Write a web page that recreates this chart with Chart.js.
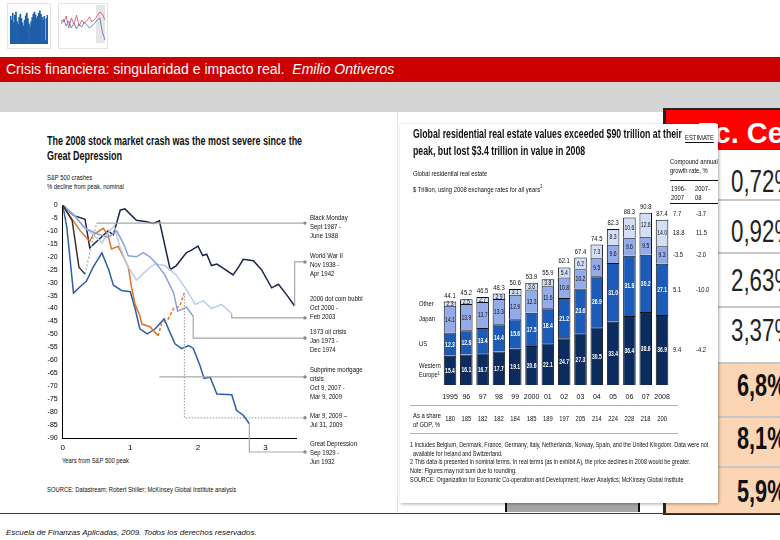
<!DOCTYPE html>
<html>
<head>
<meta charset="utf-8">
<script src="https://cdn.jsdelivr.net/npm/chart.js@4.4.1/dist/chart.umd.min.js"></script>
<style>
  body { margin: 0; width: 780px; height: 540px; position: relative; overflow: hidden; background: #fff;
         font-family: "Liberation Sans", Arial, sans-serif; }
  .abs { position: absolute; }
  .band { left: 0; width: 780px; }
  .t { position: absolute; white-space: nowrap; color: #111; transform-origin: 0 0; }
  .n72 { transform: scaleX(0.72); }
  .n78 { transform: scaleX(0.78); }
  .n70 { transform: scaleX(0.70); }
  canvas { position: absolute; }
</style>
</head>
<body>

<!-- thumbnails -->
<div class="abs" style="left:7px;top:3px;width:44px;height:46px;border:1px solid #e4e4e4;box-sizing:border-box"></div>
<div class="abs" style="left:58px;top:3px;width:50px;height:46px;border:1px solid #e4e4e4;box-sizing:border-box"></div>
<div class="abs" style="left:96px;top:5px;width:9px;height:38px;background:#e6e6e6"></div>
<canvas id="thumbA" class="abs" style="left:7px;top:3px;width:44px;height:46px"></canvas>
<canvas id="thumbB" class="abs" style="left:58px;top:3px;width:50px;height:46px"></canvas>

<!-- header bands -->
<div class="abs band" style="top:57px;height:25px;background:#cc0000"></div>
<div class="t" style="left:6px;top:61px;font-size:14px;color:#fff">Crisis financiera: singularidad e impacto real.&nbsp;&nbsp;<i>Emilio Ontiveros</i></div>
<div class="abs band" style="top:82px;height:30px;background:#d4d4d4"></div>

<!-- left image edge -->
<div class="abs" style="left:397px;top:112px;width:1px;height:400px;background:#e2e2e2"></div>

<!-- right table behind -->
<div class="abs" style="left:663px;top:108px;width:117px;height:407px;background:#fff;border-left:3px solid #222;border-top:2px solid #222;border-bottom:2px solid #222;box-sizing:border-box"></div>
<div class="abs" style="left:666px;top:110px;width:114px;height:40px;background:#ff0000"></div>
<div class="t" style="left:699px;top:117px;font-size:29px;font-weight:bold;color:#fff">Tc. Ce</div>
<div class="abs" style="left:666px;top:363px;width:114px;height:150px;background:#fcd5b4"></div>
<div class="abs" style="left:666px;top:199px;width:114px;height:2px;background:#c8c8c8"></div>
<div class="abs" style="left:666px;top:252px;width:114px;height:2px;background:#c8c8c8"></div>
<div class="abs" style="left:666px;top:306px;width:114px;height:2px;background:#c8c8c8"></div>
<div class="abs" style="left:666px;top:362px;width:114px;height:2px;background:#c8c8c8"></div>
<div class="abs" style="left:666px;top:416px;width:114px;height:2px;background:#c8c8c8"></div>
<div class="abs" style="left:666px;top:466px;width:114px;height:2px;background:#c8c8c8"></div>
<div class="t n72" style="left:731px;top:164px;font-size:31px;color:#222">0,72%</div>
<div class="t n72" style="left:731px;top:214px;font-size:31px;color:#222">0,92%</div>
<div class="t n72" style="left:731px;top:263px;font-size:31px;color:#222">2,63%</div>
<div class="t n72" style="left:731px;top:313px;font-size:31px;color:#222">3,37%</div>
<div class="t n70" style="left:737px;top:368px;font-size:31px;font-weight:bold;color:#111">6,8%</div>
<div class="t n70" style="left:737px;top:421px;font-size:31px;font-weight:bold;color:#111">8,1%</div>
<div class="t n70" style="left:737px;top:474px;font-size:31px;font-weight:bold;color:#111">5,9%</div>

<!-- bottom grey box -->
<div class="abs" style="left:505px;top:500px;width:135px;height:12px;background:#a6a6a6;border-left:2px solid #111;border-right:2px solid #111;box-sizing:border-box"></div>

<!-- left chart texts -->
<div class="t n72" style="left:47px;top:134px;font-size:12.5px;font-weight:bold;line-height:15px">The 2008 stock market crash was the most severe since the<br>Great Depression</div>
<div class="t n78" style="left:47px;top:173px;font-size:7.5px;line-height:9px">S&amp;P 500 crashes<br>% decline from peak, nominal</div>
<div class="t n78" style="left:62px;top:456px;font-size:7.5px">Years from S&amp;P 500 peak</div>
<div class="t n78" style="left:47px;top:485px;font-size:7.5px">SOURCE: Datastream; Robert Shiller; McKinsey Global Institute analysis</div>
<canvas id="crash" style="left:40px;top:190px;width:360px;height:285px"></canvas>

<!-- right panel -->
<div class="abs" style="left:400px;top:124px;width:318px;height:379px;background:#fff;box-shadow:1px 1px 3px rgba(0,0,0,0.35)"></div>
<div class="t n70" style="left:413px;top:126px;font-size:12.5px;font-weight:bold;line-height:17px">Global residential real estate values exceeded $90 trillion at their<br>peak, but lost $3.4 trillion in value in 2008</div>
<div class="t n78" style="left:685px;top:133px;font-size:7.5px;border-bottom:1px solid #111">ESTIMATE</div>
<div class="t n78" style="left:413px;top:168px;font-size:7.5px;line-height:12px">Global residential real estate<br>$ Trillion, using 2008 exchange rates for all years<sup style="font-size:5px">2</sup></div>
<div class="t n78" style="left:670px;top:157px;font-size:7.5px;line-height:9px">Compound annual<br>growth rate, %</div>
<div class="abs" style="left:670px;top:180px;width:48px;height:1px;background:#111"></div>
<div class="t n78" style="left:671px;top:184px;font-size:7.5px;line-height:9px">1996-<br>2007</div>
<div class="t n78" style="left:695px;top:184px;font-size:7.5px;line-height:9px">2007-<br>08</div>
<div class="abs" style="left:670px;top:203px;width:48px;height:1px;background:#111"></div>
<div class="abs" style="left:410px;top:405px;width:268px;height:1px;background:#d6a870"></div>
<div class="abs" style="left:410px;top:433px;width:268px;height:1px;background:#d6a870"></div>
<div class="t n78" style="left:413px;top:411px;font-size:7.5px;line-height:9px">As a share<br>of GDP, %</div>
<canvas id="estate" style="left:405px;top:190px;width:320px;height:245px"></canvas>
<div class="t n78" style="left:410px;top:441px;font-size:7px;line-height:8.7px">1 Includes Belgium, Denmark, France, Germany, Italy, Netherlands, Norway, Spain, and the United Kingdom. Data were not<br>&nbsp;&nbsp;available for Ireland and Switzerland.<br>2 This data is presented in nominal terms. In real terms (as in exhibit A), the price declines in 2008 would be greater.<br>Note: Figures may not sum due to rounding.<br>SOURCE: Organization for Economic Co-operation and Development; Haver Analytics; McKinsey Global Institute</div>

<!-- footer -->
<div class="abs band" style="top:513px;height:1px;background:#a01010"></div>
<div class="t" style="left:6px;top:528px;font-size:8px;font-style:italic">Escuela de Finanzas Aplicadas, 2009. Todos los derechos reservados.</div>

<script>
// ---------- left chart: S&P 500 crashes ----------
const wwiiYears   = [0, 0.16, 0.33, 0.4, 0.53, 0.67, 0.75, 0.85, 0.92, 1.09, 1.24, 1.34, 1.43, 1.59, 1.68, 1.83, 1.9, 2.0, 2.07, 2.13, 2.2, 2.28, 2.35, 2.52, 2.6, 2.67, 2.82, 2.94, 3.09, 3.19, 3.31, 3.43];
const wwiiDecline = [0, -4, -5.5, -16.5, -13.4, -10, -11.5, -2, -1.5, -5.9, -6.5, -7.1, -6.1, -25, -23.4, -18.4, -17.5, -15.9, -19.5, -19, -23.4, -22.8, -24, -27, -24, -21, -21.5, -25, -32, -30.6, -34.6, -39];

const blackMondayYears   = [0, 0.14, 0.24, 0.33];
const blackMondayDecline = [0, -6, -24, -26.7];
const blackMondayRecYears   = [0.33, 0.5];
const blackMondayRecDecline = [-26.7, -7];

const dotcomYears   = [0, 0.16, 0.3, 0.45, 0.58, 0.68, 0.76, 0.85, 0.97, 1.09, 1.24, 1.36, 1.51, 1.68, 1.83, 1.96, 2.08, 2.2, 2.35, 2.5];
const dotcomDecline = [0, -3.5, -8, -11.5, -14.6, -10.5, -8, -16.5, -24, -29, -25.3, -22.8, -23.4, -27, -32.8, -38.4, -37, -40, -38.4, -42];

const oilYears   = [0, 0.16, 0.33, 0.5, 0.67, 0.8, 0.9, 0.97, 1.09, 1.19, 1.29, 1.39, 1.51, 1.64, 1.7, 1.83, 1.93];
const oilDecline = [0, -3.8, -9, -11, -12.5, -10, -15, -19.6, -20, -18.4, -20, -22.8, -27, -34, -41, -39.5, -43];

const depressionYears   = [0, 0.06, 0.16, 0.28, 0.35, 0.45, 0.58, 0.68, 0.75, 0.87, 1.0, 1.07, 1.14, 1.25, 1.36, 1.5, 1.66, 1.76, 1.86, 1.93, 2.03, 2.09, 2.18, 2.28, 2.5, 2.57, 2.67, 2.76];
const depressionDecline = [0, -8.4, -34, -31, -29.5, -24, -18.5, -25, -31, -33, -33.5, -40, -47.8, -49.8, -48, -44, -53.6, -55.5, -54.3, -55.3, -62, -67, -66.5, -73, -73.3, -79.3, -81.2, -84.5];

const subprimeYears   = [0, 0.1, 0.26, 0.4, 0.45, 0.6, 0.67, 0.72, 0.82, 0.9, 0.97, 1.02, 1.07, 1.14, 1.17, 1.29, 1.41];
const subprimeDecline = [0, -4, -10, -14, -11.5, -9, -11.5, -17, -16, -20, -24, -32, -38.4, -42.7, -46, -47, -50.5];
const rallyYears   = [1.41, 1.46, 1.56, 1.64, 1.73, 1.8];
const rallyDecline = [-50.5, -46, -44, -40, -39, -34];

// connectors to the labels on the right
const crashLabels = [
  ["Black Monday", "Sept 1987 -", "June 1988"],
  ["World War II", "Nov 1938 -", "Apr 1942"],
  ["2000 dot com bubbl", "Oct 2000 -", "Feb 2003"],
  ["1973 oil crisis", "Jan 1973 -", "Dec 1974"],
  ["Subprime mortgage", "crisis", "Oct 9, 2007 -", "Mar 9, 2009"],
  ["Mar 9, 2009 \u2013", "Jul 31, 2009"],
  ["Great Depression", "Sep 1929 -", "Jun 1932"]
];
const connectStartX = [0.5, 3.43, 2.5, 1.93, 1.43, 1.8, 2.76];
const connectStartY = [-7, -39, -42, -43, -66.4, -34, -84.5];
const connectLevel  = [-7, -22, -43.6, -51.4, -66.4, -82.2, -95.4];
const labelShift = [-5, -6, -19, -6, -7, -2, -8];

const font = "'Liberation Sans', Arial, sans-serif";
Chart.defaults.font.family = font;
Chart.defaults.color = '#111';
Chart.defaults.animation = false;

// condensed text on canvas (the original uses a narrow face)
function nText(ctx, s, x, y, align, sx) {
  ctx.save();
  ctx.translate(x, y);
  ctx.scale(sx, 1);
  ctx.textAlign = align;
  ctx.fillText(s, 0, 0);
  ctx.restore();
}

function pts(xs, ys) { return xs.map((x, i) => ({ x: x, y: ys[i] })); }
function line(label, xs, ys, color, dash) {
  return { label: label, data: pts(xs, ys), borderColor: color, borderWidth: 1.5,
           borderDash: dash || [], pointRadius: 0, tension: 0, fill: false };
}

const connectorPlugin = {
  id: 'connectors',
  afterDatasetsDraw(chart) {
    const { ctx, scales: { x, y } } = chart;
    const endX = 265;
    ctx.save();
    for (let i = 0; i < crashLabels.length; i++) {
      const lv = y.getPixelForValue(connectLevel[i]);
      ctx.strokeStyle = '#a8a8a8';
      ctx.lineWidth = 1.2;
      ctx.setLineDash(i === 5 ? [1.5, 1.5] : []);
      ctx.beginPath();
      ctx.moveTo(x.getPixelForValue(connectStartX[i]), y.getPixelForValue(connectStartY[i]));
      ctx.lineTo(x.getPixelForValue(connectStartX[i]), lv);
      ctx.lineTo(endX, lv);
      ctx.stroke();
      ctx.setLineDash([]);
      ctx.fillStyle = '#8a8a8a';
      ctx.beginPath();
      ctx.arc(endX, lv, 1.7, 0, Math.PI * 2);
      ctx.fill();
      ctx.fillStyle = '#111';
      ctx.font = '7.5px ' + font;
      ctx.textBaseline = 'middle';
      crashLabels[i].forEach((s, k) => nText(ctx, s, 270, lv + labelShift[i] + k * 9, 'left', 0.8));
    }
    ctx.restore();
  }
};

new Chart(document.getElementById('crash'), {
  type: 'line',
  data: {
    datasets: [
      line('Black Monday', blackMondayYears, blackMondayDecline, '#3d3134'),
      line('Black Monday recovery', blackMondayRecYears, blackMondayRecDecline, '#b9b9c4', [2, 2]),
      line('1973 oil crisis', oilYears, oilDecline, '#8aa3d9'),
      line('2000 dot com bubble', dotcomYears, dotcomDecline, '#b9cdea'),
      line('Subprime', subprimeYears, subprimeDecline, '#e0702a'),
      line('Rally', rallyYears, rallyDecline, '#e0702a', [3, 2]),
      line('Great Depression', depressionYears, depressionDecline, '#2c5ea9'),
      line('World War II', wwiiYears, wwiiDecline, '#1b2747')
    ]
  },
  options: {
    responsive: false,
    layout: { padding: { top: 15, right: 104, left: 0, bottom: 0 } },
    plugins: { legend: { display: false }, tooltip: { enabled: false } },
    scales: {
      x: {
        type: 'linear', min: 0, max: 3.45,
        afterFit: (s) => { s.height = 37; },
        grid: { drawOnChartArea: false, drawTicks: false },
        border: { color: '#000', width: 1 },
        ticks: { stepSize: 1, includeBounds: false, padding: 5, font: { size: 8 }, color: '#000' }
      },
      y: {
        min: -90, max: 0,
        afterFit: (s) => { s.width = 22.7; },
        grid: { drawOnChartArea: false, drawTicks: false },
        border: { color: '#000', width: 1 },
        ticks: { stepSize: 5, padding: 5, font: { size: 7 }, color: '#000' }
      }
    }
  },
  plugins: [connectorPlugin]
});

// ---------- right chart: global residential real estate ----------
const years = ['1995', '96', '97', '98', '99', '2000', '01', '02', '03', '04', '05', '06', '07', '2008'];
const westernEurope = [15.4, 16.1, 16.7, 17.7, 19.1, 20.6, 22.1, 24.7, 27.3, 30.5, 33.4, 36.4, 38.6, 36.9];
const us            = [12.3, 12.8, 13.4, 14.4, 15.6, 17.5, 18.4, 21.2, 23.6, 26.9, 31.0, 31.8, 30.2, 27.1];
const japan         = [14.1, 13.9, 13.7, 13.3, 12.9, 12.3, 11.6, 10.8, 10.2, 9.5, 9.6, 9.6, 9.5, 9.3];
const other         = [2.3, 2.5, 2.7, 2.9, 3.1, 3.6, 3.8, 5.4, 6.2, 7.3, 8.3, 10.6, 12.6, 14.0];
const totals        = [44.1, 45.2, 46.5, 48.3, 50.6, 53.9, 55.9, 62.1, 67.4, 74.5, 82.3, 88.3, 90.8, 87.4];
const gdpShare      = [180, 185, 182, 182, 184, 185, 189, 197, 205, 214, 224, 228, 218, 200];
// compound annual growth, rows: total, other, japan, us, western europe
const cagr9607 = ['7.7', '18.8', '-3.5', '5.1', '9.4'];
const cagr0708 = ['-3.7', '11.5', '-2.0', '-10.0', '-4.2'];
const regionNames = [['Western', 'Europe\u00b9'], ['US'], ['Japan'], ['Other']];

const estatePlugin = {
  id: 'estateLabels',
  afterDatasetsDraw(chart) {
    const { ctx } = chart;
    ctx.save();
    ctx.textBaseline = 'middle';
    const metas = [0, 1, 2, 3].map(i => chart.getDatasetMeta(i));
    metas.forEach((meta, i) => {
      const vals = chart.data.datasets[i].data;
      meta.data.forEach((bar, j) => {
        const cy = (bar.y + bar.base) / 2;
        ctx.fillStyle = i < 2 ? '#fff' : '#111';
        ctx.font = (i < 2 ? 'bold ' : '') + '7px ' + font;
        nText(ctx, vals[j].toFixed(1), bar.x, cy + 0.5, 'center', 0.72);
      });
      // region names beside first bar
      const b0 = meta.data[0];
      const cy0 = (b0.y + b0.base) / 2;
      ctx.fillStyle = '#111';
      ctx.font = '7.5px ' + font;
      const names = regionNames[i];
      names.forEach((s, k) => nText(ctx, s, 14, cy0 + (k - (names.length - 1) / 2) * 9, 'left', 0.78));
      // growth rates beside last bar
      const bl = meta.data[meta.data.length - 1];
      const cyl = (bl.y + bl.base) / 2;
      const row = 4 - i;
      nText(ctx, cagr9607[row], 268, cyl, 'left', 0.78);
      nText(ctx, cagr0708[row], 291, cyl, 'left', 0.78);
    });
    // totals and share of GDP
    const top = metas[3];
    ctx.font = '7.5px ' + font;
    top.data.forEach((bar, j) => {
      nText(ctx, totals[j].toFixed(1), bar.x, bar.y - 6, 'center', 0.78);
      nText(ctx, String(gdpShare[j]), bar.x, 229, 'center', 0.78);
    });
    const last = top.data[top.data.length - 1];
    nText(ctx, cagr9607[0], 268, last.y - 6, 'left', 0.78);
    nText(ctx, cagr0708[0], 291, last.y - 6, 'left', 0.78);
    ctx.restore();
  }
};

function stack(label, vals, color) {
  return { label: label, data: vals, backgroundColor: color, borderColor: '#111', borderWidth: 1,
           barPercentage: 0.77, categoryPercentage: 1 };
}

new Chart(document.getElementById('estate'), {
  type: 'bar',
  data: {
    labels: years,
    datasets: [
      stack('Western Europe', westernEurope, '#0c2b5e'),
      stack('US', us, '#1c5cb8'),
      stack('Japan', japan, '#93abe8'),
      stack('Other', other, '#d3dff6')
    ]
  },
  options: {
    responsive: false,
    layout: { padding: { top: 5.6, right: 54.8, left: 36.85, bottom: 0 } },
    plugins: { legend: { display: false }, tooltip: { enabled: false } },
    scales: {
      x: {
        stacked: true,
        afterFit: (s) => { s.height = 50; },
        grid: { display: false, drawTicks: false },
        border: { display: false },
        ticks: { padding: 8, font: { size: 7 }, color: '#111', maxRotation: 0, autoSkip: false }
      },
      y: { stacked: true, min: 0, max: 100, display: false }
    }
  },
  plugins: [estatePlugin]
});

// ---------- tiny thumbnails ----------
const thumbBars = [52, 45, 58, 40, 54, 60, 42, 37, 50, 56, 48, 40, 34, 45, 53, 58, 48, 38, 32, 42, 50, 56, 60, 55, 48, 52, 58, 62, 56, 50, 45, 52, 6, 48, 54];
const thumbRed  = [60, 55, 70, 40, 65, 50, 72, 45, 60, 52, 58, 68, 55, 62, 70, 80, 75, 60];
const thumbBlue = [50, 62, 45, 58, 40, 52, 38, 50, 42, 55, 48, 40, 46, 52, 60, 65, 30, 10];
const tinyOpts = (ymax) => ({
  responsive: false,
  plugins: { legend: { display: false }, tooltip: { enabled: false } },
  layout: { padding: { top: 7, bottom: 5, left: 3, right: 3 } },
  scales: { x: { display: false }, y: { display: false, min: 0, max: ymax } }
});
new Chart(document.getElementById('thumbA'), {
  type: 'bar',
  data: { labels: thumbBars.map((v, i) => i),
          datasets: [{ data: thumbBars, backgroundColor: '#1f5fa8', barPercentage: 1, categoryPercentage: 1 }] },
  options: tinyOpts(64)
});
new Chart(document.getElementById('thumbB'), {
  type: 'line',
  data: { labels: thumbRed.map((v, i) => i),
          datasets: [
            { data: thumbRed, borderColor: '#d05060', borderWidth: 0.8, pointRadius: 0 },
            { data: thumbBlue, borderColor: '#4a70b8', borderWidth: 0.8, pointRadius: 0 }
          ] },
  options: tinyOpts(85)
});
</script>
</body>
</html>
